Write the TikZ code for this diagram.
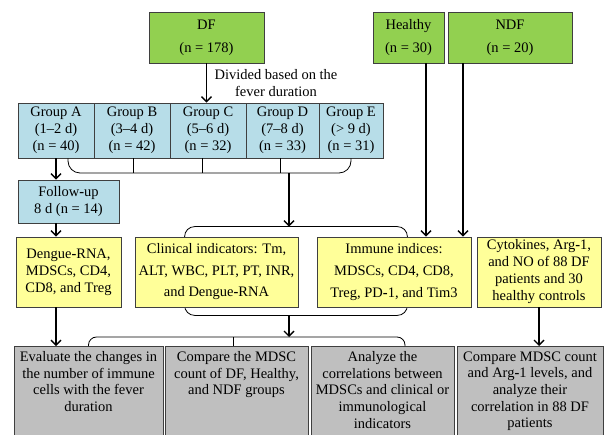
\documentclass[tikz,border=0pt]{standalone}
\usepackage{fontspec}
\setmainfont{Liberation Serif}
\usetikzlibrary{arrows.meta,backgrounds,calc}

\definecolor{dfgreen}{HTML}{92D050}
\definecolor{grpblue}{HTML}{B7DDE8}
\definecolor{ndxyellow}{HTML}{FFFF99}
\definecolor{resgray}{HTML}{BFBFBF}
\definecolor{edge}{HTML}{3F3F3F}

\newcommand{\bh}{\textbf{-}}
\newcommand{\boxtext}[2]{\parbox[t][95pt][t]{#1}{\centering #2}}

\tikzset{
  box/.style={draw=edge, line width=0.8pt, align=center, inner sep=0pt,
    font=\fontsize{14.5}{17}\selectfont},
  greenbox/.style={box, fill=dfgreen, minimum height=51pt,
    font=\fontsize{14.5}{23}\selectfont},
  bluebox/.style={box, fill=grpblue, minimum height=55pt},
  yellowbox/.style={box, fill=ndxyellow, minimum height=70pt},
  graybox/.style={box, fill=resgray, anchor=north, inner ysep=5pt,
    font=\fontsize{14.5}{16.7}\selectfont},
  arr/.style={line width=1.4pt, -{Straight Barb[length=5pt,width=10pt]}},
  brace/.style={line width=0.8pt}
}

\begin{document}
\begin{tikzpicture}[x=1pt,y=-1pt]
  \useasboundingbox (0,0) rectangle (604,435);
  \clip (0,0) rectangle (604,435);

  \node[greenbox, minimum width=115pt] (df) at (206.5,37.5) {DF\\(n = 178)};
  \node[greenbox, minimum width=71pt] (hlt) at (408.5,37.5) {Healthy\\(n = 30)};
  \node[greenbox, minimum width=124pt] (ndf) at (510,37.5) {NDF\\(n = 20)};

  \node[bluebox, minimum width=76pt] (gA) at (56,130.5) {Group A\\(1--2 d)\\(n = 40)};
  \node[bluebox, minimum width=76pt] (gB) at (132,130.5) {Group B\\(3--4 d)\\(n = 42)};
  \node[bluebox, minimum width=76pt] (gC) at (208,130.5) {Group C\\(5--6 d)\\(n = 32)};
  \node[bluebox, minimum width=73pt] (gD) at (282.5,130.5) {Group D\\(7--8 d)\\(n = 33)};
  \node[bluebox, minimum width=64pt] (gE) at (351,130.5) {Group E\\(> 9 d)\hspace*{17pt}\\(n = 31)};
  \node[bluebox, minimum width=101pt, minimum height=43pt] (fu) at (68.5,201.5) {Follow\bh up\\8 d (n = 14)};

  \node[font=\fontsize{14.5}{17}\selectfont, align=center] (divlbl) at (276,83) {Divided based on the\\fever duration};

  \node[yellowbox, minimum width=105pt] (den) at (68.5,272) {Dengue\bh RNA,\\MDSCs, CD4,\\CD8, and Treg};
  \node[yellowbox, minimum width=163pt, font=\fontsize{14.5}{21.5}\selectfont] (clin) at (216.5,272)
    {Clinical indicators: Tm,\\ALT, WBC, PLT, PT, INR,\\and Dengue\bh RNA};
  \node[yellowbox, minimum width=154pt, font=\fontsize{14.5}{22}\selectfont] (immu) at (394,272)
    {Immune indices:\\MDSCs, CD4, CD8,\\Treg, PD\bh 1, and Tim3};
  \node[yellowbox, minimum width=124pt] (cyto) at (539,272)
    {Cytokines, Arg\bh 1,\\and NO of 88 DF\\patients and 30\\healthy controls};

  \node[graybox, minimum width=149pt] (ev) at (88.5,346)
    {\boxtext{145pt}{Evaluate the changes in\\the number of immune\\cells with the fever\\duration}};
  \node[graybox, minimum width=143pt] (cmp) at (236.5,346)
    {\boxtext{140pt}{Compare the MDSC\\count of DF, Healthy,\\and NDF groups}};
  \node[graybox, minimum width=143pt] (cor) at (382.5,346)
    {\boxtext{140pt}{Analyze the\\correlations between\\MDSCs and clinical or\\immunological\\indicators}};
  \node[graybox, minimum width=146pt] (arg) at (530,346)
    {\boxtext{142pt}{Compare MDSC count\\and Arg\bh 1 levels, and\\analyze their\\correlation in 88 DF\\patients}};

  % brackets
  \coordinate (gbar) at (0,173);
  \coordinate (bbar) at (0,337);
  \coordinate (gmid) at (289,173);
  \coordinate (encNW) at ($(clin.north west)+(50,-10)$);
  \coordinate (encSE) at ($(immu.south east)+(-64,8)$);
  \coordinate (bR) at ([xshift=22.5pt]cor.north);

  \draw[brace, rounded corners=12pt] ([xshift=12pt]gA.south) |- (gE.south |- gbar) -- (gE.south);
  \foreach \g/\dx in {gB/1,gC/-6,gD/-2.5}
    \draw[brace] ([xshift=\dx pt]\g.south) -- ++(0,15);
  \begin{scope}[on background layer]
    \draw[brace, rounded corners=10pt] (encNW) rectangle (encSE);
  \end{scope}
  \draw[brace, rounded corners=8pt] (ev.north) |- (bR |- bbar) -- (bR);
  \draw[brace] ([xshift=-3.5pt]cmp.north) -- ++(0,-9);

  % arrows
  \coordinate (hA) at ([xshift=17.5pt]hlt.south);
  \coordinate (nA) at ([xshift=-47pt]ndf.south);
  \draw[arr] (df.south) -- (df.south |- gC.north);
  \draw[arr] (hA) -- (hA |- immu.north);
  \draw[arr] (nA) -- (nA |- immu.north);
  \draw[arr] (gA.south) -- (gA.south |- fu.north);
  \draw[arr] (gA.south |- fu.south) -- (gA.south |- den.north);
  \draw[arr] (gA.south |- den.south) -- (gA.south |- ev.north);
  \draw[arr] (gmid) -- (gmid |- encNW);
  \draw[arr] (gmid |- encSE) -- (gmid |- bbar);
  \draw[arr] (cyto.south) -- (cyto.south |- arg.north);
\end{tikzpicture}
\end{document}
